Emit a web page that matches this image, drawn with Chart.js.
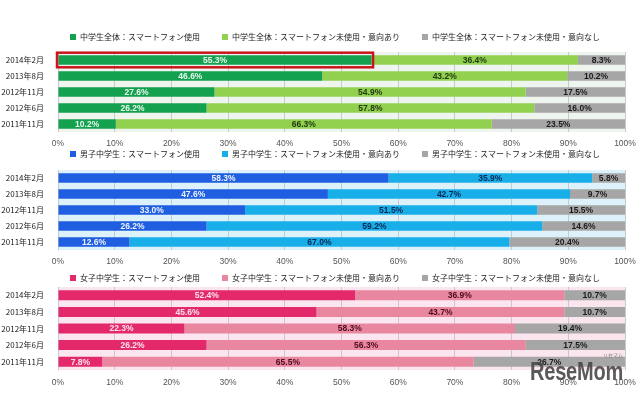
<!DOCTYPE html>
<html><head><meta charset="utf-8">
<script src="https://cdn.jsdelivr.net/npm/chart.js@4.4.1/dist/chart.umd.min.js"></script>
<style>
html,body{margin:0;padding:0;background:#fff;width:640px;height:395px;overflow:hidden;}
body{position:relative;}
.box{position:absolute;left:0;width:670px;}
canvas{display:block;}
#wm{position:absolute;left:530px;top:358px;font:bold 26px 'Liberation Sans',sans-serif;color:rgba(72,72,72,0.9);letter-spacing:-0.3px;line-height:26px;transform:scaleX(0.77);transform-origin:0 0;white-space:nowrap;}
#wm2{position:absolute;left:603px;top:352px;font:5px 'Noto Sans CJK JP',sans-serif;color:#777;line-height:5px;}
</style></head><body>
<div class="box" style="top:0px;height:152px"><canvas id="c1" width="670" height="152"></canvas></div>
<div class="box" style="top:117px;height:153px"><canvas id="c2" width="670" height="153"></canvas></div>
<div class="box" style="top:241px;height:149px"><canvas id="c3" width="670" height="149"></canvas></div>
<div id="wm2">リセマム</div>
<div id="wm">ReseMom</div>
<script>
const categories = ['2014年2月','2013年8月','2012年11月','2012年6月','2011年11月'];

const allLabels = ['中学生全体：スマートフォン使用','中学生全体：スマートフォン未使用・意向あり','中学生全体：スマートフォン未使用・意向なし'];
const allUse    = [55.3, 46.6, 27.6, 26.2, 10.2];
const allIntent = [36.4, 43.2, 54.9, 57.8, 66.3];
const allNone   = [8.3, 10.2, 17.5, 16.0, 23.5];

const boyLabels = ['男子中学生：スマートフォン使用','男子中学生：スマートフォン未使用・意向あり','男子中学生：スマートフォン未使用・意向なし'];
const boyUse    = [58.3, 47.6, 33.0, 26.2, 12.6];
const boyIntent = [35.9, 42.7, 51.5, 59.2, 67.0];
const boyNone   = [5.8, 9.7, 15.5, 14.6, 20.4];

const girlLabels = ['女子中学生：スマートフォン使用','女子中学生：スマートフォン未使用・意向あり','女子中学生：スマートフォン未使用・意向なし'];
const girlUse    = [52.4, 45.6, 22.3, 26.2, 7.8];
const girlIntent = [36.9, 43.7, 58.3, 56.3, 65.5];
const girlNone   = [10.7, 10.7, 19.4, 17.5, 26.7];

const xTickStep = 10;
const xTickSuffix = '%';

const JP = "'Noto Sans CJK JP', sans-serif";
const NUM = "'Liberation Sans', sans-serif";

const plotBg = {
  id: 'plotBg',
  beforeDraw(chart, args, opts) {
    const a = chart.chartArea, ctx = chart.ctx;
    ctx.save();
    ctx.fillStyle = opts.color;
    ctx.fillRect(a.left, a.top, a.right - a.left, a.bottom - a.top);
    ctx.restore();
  }
};
const barLabels = {
  id: 'barLabels',
  afterDatasetsDraw(chart, args, opts) {
    const ctx = chart.ctx;
    ctx.save();
    ctx.font = 'bold 8.5px ' + NUM;
    ctx.textAlign = 'center';
    ctx.textBaseline = 'middle';
    chart.data.datasets.forEach((ds, i) => {
      const meta = chart.getDatasetMeta(i);
      meta.data.forEach((el, j) => {
        ctx.fillStyle = opts.colors[i];
        ctx.fillText(ds.data[j].toFixed(1) + '%', (el.x + el.base) / 2, el.y + 0.5);
      });
    });
    ctx.restore();
  }
};
const highlight = {
  id: 'highlight',
  afterDatasetsDraw(chart, args, opts) {
    if (!opts.enabled) return;
    const el = chart.getDatasetMeta(0).data[0];
    const ctx = chart.ctx;
    ctx.save();
    ctx.strokeStyle = '#c8161d';
    ctx.lineWidth = 2.5;
    ctx.strokeRect(el.base - 1.5, el.y - el.height / 2 - 2.5, el.x - el.base + 3, el.height + 5);
    ctx.restore();
  }
};
const legendShrink = {
  id: 'legendShrink',
  beforeInit(chart, args, opts) {
    const lg = chart.legend;
    if (!lg) return;
    const orig = lg.fit;
    const amt = opts.amount || 0;
    lg.fit = function () { orig.call(this); this.height -= amt; };
  }
};

function makeChart(id, labels, series, colors, labelColors, bg, shrink, tickPad, hl, barPct) {
  new Chart(document.getElementById(id), {
    type: 'bar',
    data: {
      labels: categories,
      datasets: series.map((d, i) => ({
        label: labels[i], data: d, backgroundColor: colors[i], borderWidth: 0,
        barPercentage: barPct, categoryPercentage: 1
      }))
    },
    options: {
      indexAxis: 'y', responsive: false, animation: false, devicePixelRatio: 1,
      layout: { padding: { top: 11, left: 0, right: 0, bottom: 0 } },
      plugins: {
        legend: { position: 'top', labels: { font: { family: JP, size: 8 }, color: '#1a1a1a', boxWidth: 6, boxHeight: 6, padding: 22 } },
        tooltip: { enabled: false },
        plotBg: { color: bg },
        barLabels: { colors: labelColors },
        highlight: { enabled: hl },
        legendShrink: { amount: shrink }
      },
      scales: {
        x: {
          stacked: true, min: 0, max: 100,
          ticks: { stepSize: xTickStep, callback: v => v + xTickSuffix, font: { family: NUM, size: 8.5 }, color: '#555', padding: tickPad },
          grid: { color: '#c6cacf', drawTicks: false },
          border: { display: false },
          afterFit(s) { s.height = 20; }
        },
        y: {
          stacked: true,
          ticks: { font: { family: JP, size: 8 }, color: '#1a1a1a', padding: 6 },
          grid: { display: false },
          border: { display: false },
          afterFit(s) { s.width = 58; }
        },
        y2: {
          type: 'category', position: 'right', display: true,
          ticks: { display: false }, grid: { display: false }, border: { display: false },
          afterFit(s) { s.width = 45; }
        }
      }
    },
    plugins: [plotBg, barLabels, highlight, legendShrink]
  });
}

makeChart('c1', allLabels, [allUse, allIntent, allNone],
  ['#13a04f', '#92d050', '#a6a6a6'], ['#eaf8ee', '#223c10', '#1a1a1a'], '#eef4ee', -1, 7, true, 0.6);
makeChart('c2', boyLabels, [boyUse, boyIntent, boyNone],
  ['#1f5ee0', '#18afe9', '#a6a6a6'], ['#eef3ff', '#0b2452', '#1a1a1a'], '#dcf1fa', -2, 7, false, 0.6);
makeChart('c3', girlLabels, [girlUse, girlIntent, girlNone],
  ['#e3296c', '#e8879f', '#a6a6a6'], ['#fde3ec', '#4e0b1d', '#1a1a1a'], '#fbe5ee', 5, 8, false, 0.6);
</script>
</body></html>
